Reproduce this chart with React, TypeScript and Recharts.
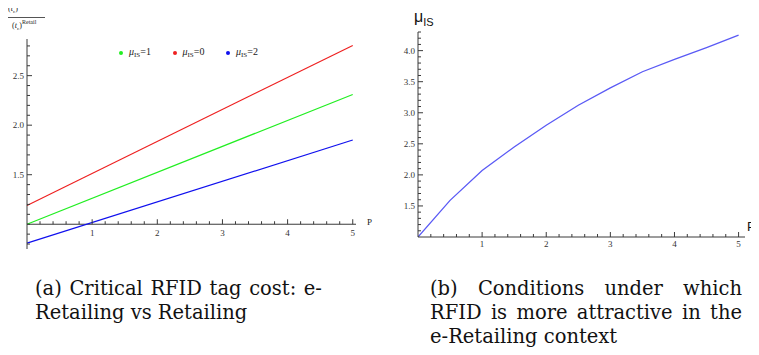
import { LineChart, Line, XAxis, YAxis, ReferenceLine, ReferenceDot, Legend } from 'recharts';

// (a) critical tag cost ratio vs P, one straight line per mu_IS
const pEnds = [0, 5];
const muOne = [1.0, 2.31];
const muZero = [1.19, 2.805];
const muTwo = [0.81, 1.85];
const legendMu = ['1', '0', '2'];
const lineColors = ['#22ee22', '#ee2020', '#1010ee'];

// (b) mu_IS threshold vs P
const pGrid = [0, 0.5, 1, 1.5, 2, 2.5, 3, 3.5, 4, 4.5, 5];
const muThreshold = [1.0, 1.59, 2.07, 2.45, 2.8, 3.12, 3.4, 3.66, 3.86, 4.05, 4.25];

// tick labels
const xMajor = [1, 2, 3, 4, 5];
const leftYMajor = [1.5, 2.0, 2.5];
const rightYMajor = [1.5, 2.0, 2.5, 3.0, 3.5, 4.0];

const steps = (from: number, to: number, step: number) => {
  const out: number[] = [];
  for (let v = from; v <= to + 1e-9; v += step) out.push(+v.toFixed(1));
  return out;
};
const xTicks = steps(0.2, 5, 0.2);
const leftYTicks = steps(0.8, 2.8, 0.1);
const rightYTicks = steps(1.1, 4.3, 0.1);

const leftData = pEnds.map((p, i) => ({ p, mu1: muOne[i], mu0: muZero[i], mu2: muTwo[i] }));
const rightData = pGrid.map((p, i) => ({ p, mu: muThreshold[i] }));

const AXIS = '#3a3a3a';
const SERIF = '"Liberation Serif", "Times New Roman", serif';
const SANS = '"Liberation Sans", Arial, sans-serif';
const tickFont = { fontFamily: SERIF, fontSize: 9, fill: '#333' };

function makeYTick(majors: number[]) {
  return (props: any) => {
    const { x, y, payload } = props;
    const major = majors.includes(payload.value);
    return (
      <g>
        <line x1={x} y1={y} x2={x + (major ? 5 : 3)} y2={y} stroke={AXIS} strokeWidth={1} />
        {major && (
          <text x={x - 3} y={y + 3} textAnchor="end" {...tickFont}>
            {payload.value.toFixed(1)}
          </text>
        )}
      </g>
    );
  };
}

function RightXTick(props: any) {
  const { x, y, payload } = props;
  const major = xMajor.includes(payload.value);
  return (
    <g>
      <line x1={x} y1={y} x2={x} y2={y - (major ? 5 : 3)} stroke={AXIS} strokeWidth={1} />
      {major && (
        <text x={x} y={y + 10} textAnchor="middle" {...tickFont}>
          {payload.value}
        </text>
      )}
    </g>
  );
}

function MuLegend(props: any) {
  const items = [...(props.payload || [])].sort(
    (a: any, b: any) => legendMu.indexOf(a.value) - legendMu.indexOf(b.value)
  );
  return (
    <div style={{ display: 'flex', fontFamily: SERIF, fontSize: 10, color: '#222' }}>
      {items.map((e: any) => (
        <div key={e.value} style={{ width: 53.5, display: 'flex', alignItems: 'center', whiteSpace: 'nowrap' }}>
          <span style={{ width: 4, height: 4, borderRadius: 2, background: e.color, marginRight: 6 }} />
          <span>
            <i>μ</i>
            <sub style={{ fontSize: 7, verticalAlign: -2 }}>IS</sub>={e.value}
          </span>
        </div>
      ))}
    </div>
  );
}

// the (t_c)^x / (t_c)^y axis title, drawn as one small svg
function RatioTitle() {
  const part = (sup: string, x: number, y: number) => (
    <g>
      <text x={x} y={y} fontFamily={SERIF} fontSize={8} fill="#222">
        (<tspan fontStyle="italic">t</tspan>
        <tspan fontSize={5} dy={2}>c</tspan>
        <tspan dy={-2}>)</tspan>
      </text>
      <text x={x + 10} y={y - 4} fontFamily={SERIF} fontSize={6} fill="#222">
        {sup}
      </text>
    </g>
  );
  return (
    <svg width={50} height={32} style={{ position: 'absolute', left: 0, top: 0 }}>
      {part('e-Retail', 8, 11)}
      <line x1={8} y1={17.5} x2={45} y2={17.5} stroke="#555" strokeWidth={1} />
      {part('Retail', 12, 28)}
    </svg>
  );
}

function JustLine({ words, width, top, left }: { words: string[]; width: number; top: number; left: number }) {
  return (
    <div style={{ position: 'absolute', top, left, width, display: 'flex', justifyContent: 'space-between', whiteSpace: 'nowrap' }}>
      {words.map((w, i) => (
        <span key={i}>{w}</span>
      ))}
    </div>
  );
}

function PlainLine({ text, top, left }: { text: string; top: number; left: number }) {
  return <div style={{ position: 'absolute', top, left, whiteSpace: 'nowrap' }}>{text}</div>;
}

export default function App() {
  return (
    <div style={{ position: 'relative', width: 759, height: 355, margin: -8, overflow: 'hidden', background: '#fff' }}>
      {/* left panel */}
      <div style={{ position: 'absolute', left: 0, top: 0 }}>
        <LineChart width={380} height={260} data={leftData} margin={{ top: 39, right: 24, bottom: 11, left: 0 }}>
          <XAxis dataKey="p" type="number" domain={[0, 5.05]} hide />
          <YAxis
            type="number"
            domain={[0.75, 2.87]}
            ticks={leftYTicks}
            interval={0}
            width={27}
            tickSize={0}
            tickMargin={0}
            tickLine={false}
            axisLine={{ stroke: AXIS }}
            tick={makeYTick(leftYMajor)}
            allowDataOverflow
          />
          <ReferenceLine y={1} stroke={AXIS} strokeWidth={1} />
          {xTicks.map((t) => (
            <ReferenceDot
              key={t}
              x={t}
              y={1}
              r={1}
              shape={(sp: any) => {
                const major = xMajor.includes(t);
                return (
                  <g>
                    <line x1={sp.cx} y1={sp.cy} x2={sp.cx} y2={sp.cy - (major ? 5 : 3)} stroke={AXIS} strokeWidth={1} />
                    {major && (
                      <text x={sp.cx} y={sp.cy + 12} textAnchor="middle" {...tickFont}>
                        {t}
                      </text>
                    )}
                  </g>
                );
              }}
            />
          ))}
          <Legend
            layout="horizontal"
            verticalAlign="middle"
            align="center"
            content={<MuLegend />}
            wrapperStyle={{ position: 'absolute', top: 46, left: 119, width: 'auto' }}
          />
          <Line dataKey="mu1" name={legendMu[0]} stroke={lineColors[0]} strokeWidth={1.2} dot={false} isAnimationActive={false} />
          <Line dataKey="mu0" name={legendMu[1]} stroke={lineColors[1]} strokeWidth={1.2} dot={false} isAnimationActive={false} />
          <Line dataKey="mu2" name={legendMu[2]} stroke={lineColors[2]} strokeWidth={1.2} dot={false} isAnimationActive={false} />
        </LineChart>
        <RatioTitle />
        <div style={{ position: 'absolute', left: 367, top: 217, fontFamily: SERIF, fontSize: 9, color: '#222' }}>P</div>
      </div>

      {/* right panel */}
      <div style={{ position: 'absolute', left: 380, top: 0 }}>
        <LineChart width={379} height={260} data={rightData} margin={{ top: 32, right: 14, bottom: 3, left: 0 }}>
          <XAxis
            dataKey="p"
            type="number"
            domain={[0, 5.1]}
            ticks={xTicks}
            interval={0}
            height={20}
            tickSize={0}
            tickMargin={0}
            tickLine={false}
            axisLine={{ stroke: AXIS }}
            tick={<RightXTick />}
            allowDataOverflow
          />
          <YAxis
            type="number"
            domain={[1, 4.3]}
            ticks={rightYTicks}
            interval={0}
            width={38}
            tickSize={0}
            tickMargin={0}
            tickLine={false}
            axisLine={{ stroke: AXIS }}
            tick={makeYTick(rightYMajor)}
            allowDataOverflow
          />
          <Line dataKey="mu" stroke="#5a5af5" strokeWidth={1.3} dot={false} isAnimationActive={false} />
        </LineChart>
        <div style={{ position: 'absolute', left: 34, top: 8, fontFamily: SANS, fontSize: 16, color: '#111', whiteSpace: 'nowrap' }}>
          μ<span style={{ fontSize: 11, position: 'relative', top: 4 }}>IS</span>
        </div>
        <div style={{ position: 'absolute', left: 367, top: 219, lineHeight: '15px', fontFamily: SANS, fontSize: 13, color: '#111' }}>P</div>
      </div>

      {/* captions */}
      <div style={{ position: 'absolute', left: 0, top: 0, fontFamily: '"DejaVu Serif", serif', fontSize: 19.5, color: '#111', lineHeight: '24px' }}>
        <JustLine words={['(a)', 'Critical', 'RFID', 'tag', 'cost:', 'e-']} width={287} top={277} left={35} />
        <PlainLine text="Retailing vs Retailing" top={301} left={35} />
        <JustLine words={['(b)', 'Conditions', 'under', 'which']} width={312} top={277} left={430} />
        <JustLine words={['RFID', 'is', 'more', 'attractive', 'in', 'the']} width={312} top={301} left={430} />
        <PlainLine text="e-Retailing context" top={325} left={430} />
      </div>
    </div>
  );
}
